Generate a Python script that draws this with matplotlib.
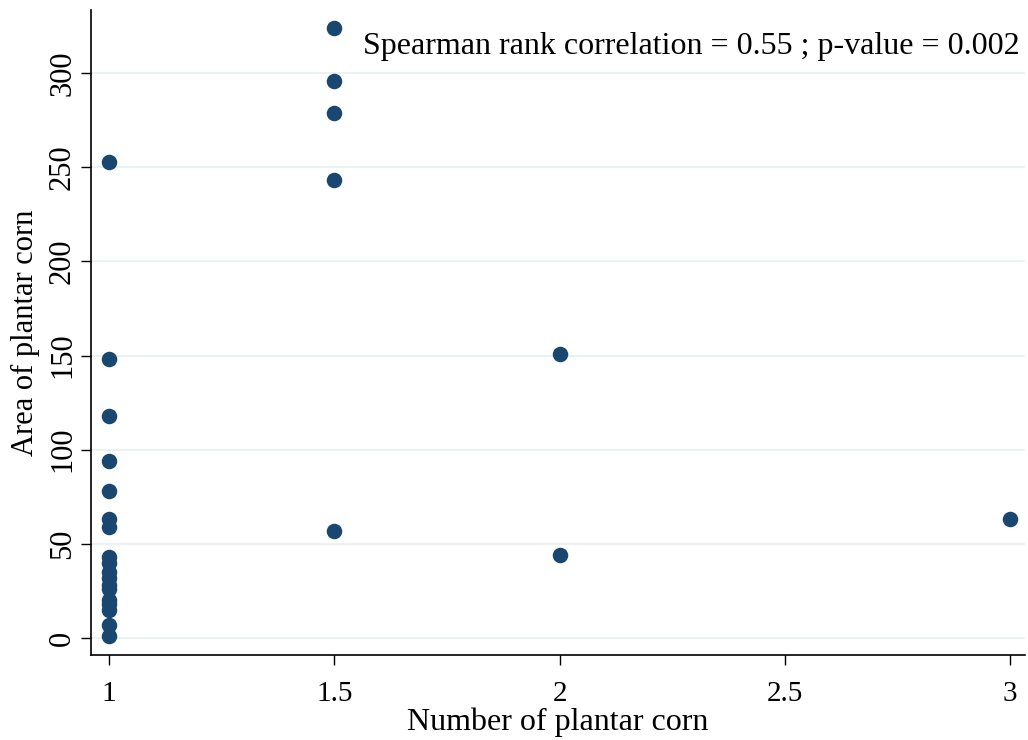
import matplotlib.pyplot as plt

# data
corn_number = [1, 1, 1, 1, 1, 1, 1, 1, 1, 1, 1, 1, 1, 1, 1, 1, 1, 1,
               1.5, 1.5, 1.5, 1.5, 1.5,
               2, 2,
               3]
corn_area = [253, 148, 118, 94, 78, 63, 59, 43, 40, 35, 32, 28, 26, 20, 18, 15, 7, 1,
             324, 296, 279, 243, 57,
             151, 44,
             63]

x_ticks = [1, 1.5, 2, 2.5, 3]
x_tick_labels = ["1", "1.5", "2", "2.5", "3"]
y_ticks = [0, 50, 100, 150, 200, 250, 300]

plt.rcParams['font.family'] = ['Liberation Serif', 'DejaVu Serif']

fig = plt.figure(figsize=(10.28, 7.40), dpi=100)
ax = fig.add_axes([0.0885, 0.1149, 0.9085, 0.8716])

ax.scatter(corn_number, corn_area, s=125, color='#1A476F', zorder=3, linewidths=0)

ax.set_xlim(0.96, 3.033)
ax.set_ylim(-9, 333.5)
ax.set_xticks(x_ticks)
ax.set_xticklabels(x_tick_labels)
ax.set_yticks(y_ticks)
ax.tick_params(axis='both', direction='out', length=7, width=1, color='black')
ax.tick_params(axis='x', labelsize=21, pad=12)
ax.tick_params(axis='y', labelsize=22, labelrotation=90, pad=3)
for lab in ax.get_yticklabels():
    lab.set_va('center')

ax.yaxis.grid(True, color='#EAF2F3', linewidth=1.5)
ax.set_axisbelow(True)
for side in ['top', 'right']:
    ax.spines[side].set_visible(False)
for side in ['left', 'bottom']:
    ax.spines[side].set_linewidth(1.2)

ax.set_xlabel("Number of plantar corn", fontsize=23, labelpad=0)
ax.set_ylabel("Area of plantar corn", fontsize=22, labelpad=6)

ax.text(3.022, 314, "Spearman rank correlation = 0.55 ; p-value = 0.002",
        ha='right', va='center', fontsize=23)

fig.savefig('out.png', dpi=100)
